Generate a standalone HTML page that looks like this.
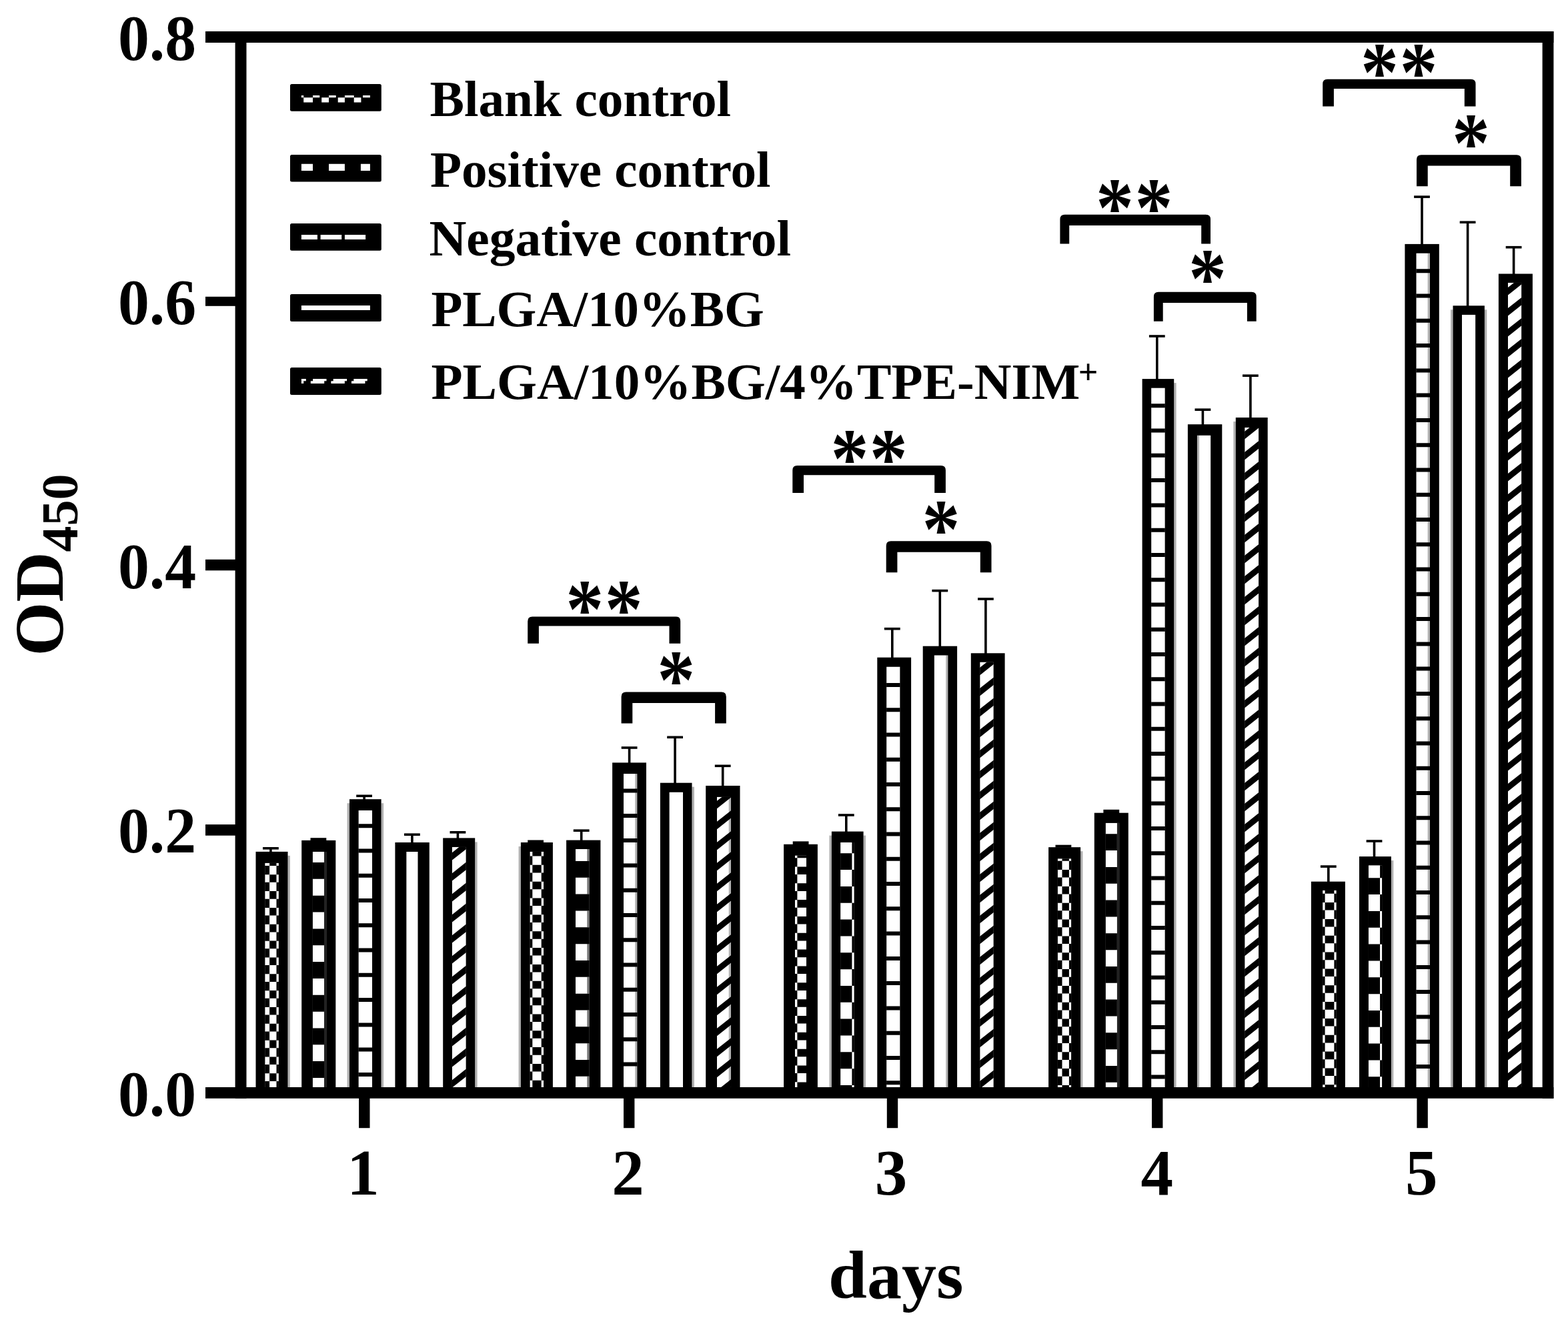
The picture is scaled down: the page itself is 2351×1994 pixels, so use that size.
<!DOCTYPE html>
<html lang="en">
<head>
<meta charset="utf-8">
<title>OD450 bar chart</title>
<style>
html,body{margin:0;padding:0;background:#fff;}
body{width:2351px;height:1994px;overflow:hidden;}
svg{display:block;}
text{font-family:'Liberation Serif', 'Times New Roman', Times, serif;font-weight:bold;fill:#000;}
</style>
</head>
<body>
<svg width="2351" height="1994" viewBox="0 0 2351 1994">
<rect x="0" y="0" width="2351" height="1994" fill="#fff"/>

<g id="bars">
<rect x="394.0" y="1270.0" width="23.8" height="3.6" fill="#000"/>
<rect x="404.1" y="1271.8" width="3.6" height="6.1" fill="#000"/>
<rect x="431.4" y="1282.9" width="3.5" height="347.1" fill="#b0b0b0"/>
<rect x="383.5" y="1276.9" width="48.0" height="355.1" fill="#000"/>
<svg x="397.2" y="1293.7" width="20.7" height="336.3" viewBox="397.2 1293.7 20.7 336.3" preserveAspectRatio="none" overflow="hidden"><rect x="397.2" y="1293.7" width="20.7" height="336.3" fill="#fff"/><path d="M404.1 1261.6H414.5v11.6H404.1zM396.2 1273.2H404.1v13.24H396.2zM414.5 1273.2H418.9v13.24H414.5zM404.1 1286.4H414.5v11.6H404.1zM396.2 1298.0H404.1v13.24H396.2zM414.5 1298.0H418.9v13.24H414.5zM404.1 1311.2H414.5v11.6H404.1zM396.2 1322.8H404.1v13.24H396.2zM414.5 1322.8H418.9v13.24H414.5zM404.1 1336.1H414.5v11.6H404.1zM396.2 1347.7H404.1v13.24H396.2zM414.5 1347.7H418.9v13.24H414.5zM404.1 1360.9H414.5v11.6H404.1zM396.2 1372.5H404.1v13.24H396.2zM414.5 1372.5H418.9v13.24H414.5zM404.1 1385.8H414.5v11.6H404.1zM396.2 1397.4H404.1v13.24H396.2zM414.5 1397.4H418.9v13.24H414.5zM404.1 1410.6H414.5v11.6H404.1zM396.2 1422.2H404.1v13.24H396.2zM414.5 1422.2H418.9v13.24H414.5zM404.1 1435.4H414.5v11.6H404.1zM396.2 1447.0H404.1v13.24H396.2zM414.5 1447.0H418.9v13.24H414.5zM404.1 1460.3H414.5v11.6H404.1zM396.2 1471.9H404.1v13.24H396.2zM414.5 1471.9H418.9v13.24H414.5zM404.1 1485.1H414.5v11.6H404.1zM396.2 1496.7H404.1v13.24H396.2zM414.5 1496.7H418.9v13.24H414.5zM404.1 1510.0H414.5v11.6H404.1zM396.2 1521.6H404.1v13.24H396.2zM414.5 1521.6H418.9v13.24H414.5zM404.1 1534.8H414.5v11.6H404.1zM396.2 1546.4H404.1v13.24H396.2zM414.5 1546.4H418.9v13.24H414.5zM404.1 1559.6H414.5v11.6H404.1zM396.2 1571.2H404.1v13.24H396.2zM414.5 1571.2H418.9v13.24H414.5zM404.1 1584.5H414.5v11.6H404.1zM396.2 1596.1H404.1v13.24H396.2zM414.5 1596.1H418.9v13.24H414.5zM404.1 1609.3H414.5v11.6H404.1zM396.2 1620.9H404.1v13.24H396.2zM414.5 1620.9H418.9v13.24H414.5zM404.1 1634.2H414.5v11.6H404.1zM396.2 1645.8H404.1v13.24H396.2zM414.5 1645.8H418.9v13.24H414.5zM404.1 1659.0H414.5v11.6H404.1zM396.2 1670.6H404.1v13.24H396.2zM414.5 1670.6H418.9v13.24H414.5z" fill="#000"/></svg>
<rect x="465.5" y="1256.2" width="23.8" height="4.2" fill="#000"/>
<rect x="452.2" y="1259.9" width="51.1" height="372.1" fill="#000"/>
<svg x="468.7" y="1276.9" width="20.7" height="353.1" viewBox="468.7 1276.9 20.7 353.1" preserveAspectRatio="none" overflow="hidden"><rect x="468.7" y="1276.9" width="20.7" height="353.1" fill="#fff"/><rect x="486.0" y="1276.9" width="4.4" height="353.1" fill="#222"/><path d="M467.7 1243.4H486.0v24.84H467.7zM467.7 1293.0H486.0v24.84H467.7zM467.7 1342.7H486.0v24.84H467.7zM467.7 1392.4H486.0v24.84H467.7zM467.7 1442.1H486.0v24.84H467.7zM467.7 1491.8H486.0v24.84H467.7zM467.7 1541.4H486.0v24.84H467.7zM467.7 1591.1H486.0v24.84H467.7zM467.7 1640.8H486.0v24.84H467.7zM467.7 1690.5H486.0v24.84H467.7zM467.7 1740.2H486.0v24.84H467.7z" fill="#000"/></svg>
<rect x="534.2" y="1191.5" width="23.8" height="3.6" fill="#000"/>
<rect x="544.3" y="1193.3" width="3.6" height="5.9" fill="#000"/>
<rect x="520.6" y="1204.2" width="3.4" height="425.8" fill="#b0b0b0"/>
<rect x="571.6" y="1204.2" width="3.5" height="425.8" fill="#b0b0b0"/>
<rect x="524.0" y="1198.2" width="47.6" height="433.8" fill="#000"/>
<svg x="537.4" y="1214.9" width="20.7" height="415.1" viewBox="537.4 1214.9 20.7 415.1" preserveAspectRatio="none" overflow="hidden"><rect x="537.4" y="1214.9" width="20.7" height="415.1" fill="#fff"/><path d="M536.4 1160.7H559.1v6H536.4zM536.4 1197.9H559.1v6H536.4zM536.4 1235.2H559.1v6H536.4zM536.4 1272.5H559.1v6H536.4zM536.4 1309.7H559.1v6H536.4zM536.4 1347.0H559.1v6H536.4zM536.4 1384.3H559.1v6H536.4zM536.4 1421.6H559.1v6H536.4zM536.4 1458.8H559.1v6H536.4zM536.4 1496.1H559.1v6H536.4zM536.4 1533.4H559.1v6H536.4zM536.4 1570.6H559.1v6H536.4zM536.4 1607.9H559.1v6H536.4zM536.4 1645.2H559.1v6H536.4zM536.4 1682.4H559.1v6H536.4z" fill="#000"/></svg>
<rect x="606.0" y="1249.4" width="23.8" height="3.6" fill="#000"/>
<rect x="616.1" y="1251.2" width="3.6" height="12.8" fill="#000"/>
<rect x="592.4" y="1263.0" width="51.4" height="369.0" fill="#000"/>
<svg x="609.2" y="1276.9" width="17.5" height="353.1" viewBox="609.2 1276.9 17.5 353.1" preserveAspectRatio="none" overflow="hidden"><rect x="609.2" y="1276.9" width="17.5" height="353.1" fill="#fff"/></svg>
<rect x="674.5" y="1246.0" width="23.8" height="3.6" fill="#000"/>
<rect x="684.6" y="1247.8" width="3.6" height="9.6" fill="#000"/>
<rect x="712.2" y="1262.4" width="3.4" height="367.6" fill="#b0b0b0"/>
<rect x="664.2" y="1256.4" width="48.0" height="375.6" fill="#000"/>
<svg x="677.7" y="1269.8" width="21.1" height="360.2" viewBox="677.7 1269.8 21.1 360.2" preserveAspectRatio="none" overflow="hidden"><rect x="677.7" y="1269.8" width="21.1" height="360.2" fill="#fff"/><path d="M674.7 1187.7L701.8 1166.3V1177.7L674.7 1199.1zM674.7 1218.7L701.8 1197.3V1208.7L674.7 1230.1zM674.7 1249.7L701.8 1228.3V1239.7L674.7 1261.1zM674.7 1280.7L701.8 1259.3V1270.7L674.7 1292.1zM674.7 1311.7L701.8 1290.3V1301.7L674.7 1323.1zM674.7 1342.7L701.8 1321.3V1332.7L674.7 1354.1zM674.7 1373.7L701.8 1352.3V1363.7L674.7 1385.1zM674.7 1404.7L701.8 1383.3V1394.7L674.7 1416.1zM674.7 1435.7L701.8 1414.3V1425.7L674.7 1447.1zM674.7 1466.7L701.8 1445.3V1456.7L674.7 1478.1zM674.7 1497.7L701.8 1476.3V1487.7L674.7 1509.1zM674.7 1528.7L701.8 1507.3V1518.7L674.7 1540.1zM674.7 1559.7L701.8 1538.3V1549.7L674.7 1571.1zM674.7 1590.7L701.8 1569.3V1580.7L674.7 1602.1zM674.7 1621.7L701.8 1600.3V1611.7L674.7 1633.1zM674.7 1652.7L701.8 1631.3V1642.7L674.7 1664.1zM674.7 1683.7L701.8 1662.3V1673.7L674.7 1695.1zM674.7 1714.7L701.8 1693.3V1704.7L674.7 1726.1zM674.7 1745.7L701.8 1724.3V1735.7L674.7 1757.1z" fill="#000"/></svg>
<rect x="791.2" y="1259.5" width="23.8" height="4.0" fill="#000"/>
<rect x="777.6" y="1269.0" width="3.3" height="361.0" fill="#b0b0b0"/>
<rect x="780.9" y="1263.0" width="48.0" height="369.0" fill="#000"/>
<svg x="794.4" y="1276.8" width="20.7" height="353.2" viewBox="794.4 1276.8 20.7 353.2" preserveAspectRatio="none" overflow="hidden"><rect x="794.4" y="1276.8" width="20.7" height="353.2" fill="#fff"/><path d="M798.3 1247.2H811.7v11.6H798.3zM793.4 1258.8H798.3v13.24H793.4zM811.7 1258.8H816.1v13.24H811.7zM798.3 1272.0H811.7v11.6H798.3zM793.4 1283.6H798.3v13.24H793.4zM811.7 1283.6H816.1v13.24H811.7zM798.3 1296.8H811.7v11.6H798.3zM793.4 1308.4H798.3v13.24H793.4zM811.7 1308.4H816.1v13.24H811.7zM798.3 1321.7H811.7v11.6H798.3zM793.4 1333.3H798.3v13.24H793.4zM811.7 1333.3H816.1v13.24H811.7zM798.3 1346.5H811.7v11.6H798.3zM793.4 1358.1H798.3v13.24H793.4zM811.7 1358.1H816.1v13.24H811.7zM798.3 1371.4H811.7v11.6H798.3zM793.4 1383.0H798.3v13.24H793.4zM811.7 1383.0H816.1v13.24H811.7zM798.3 1396.2H811.7v11.6H798.3zM793.4 1407.8H798.3v13.24H793.4zM811.7 1407.8H816.1v13.24H811.7zM798.3 1421.0H811.7v11.6H798.3zM793.4 1432.6H798.3v13.24H793.4zM811.7 1432.6H816.1v13.24H811.7zM798.3 1445.9H811.7v11.6H798.3zM793.4 1457.5H798.3v13.24H793.4zM811.7 1457.5H816.1v13.24H811.7zM798.3 1470.7H811.7v11.6H798.3zM793.4 1482.3H798.3v13.24H793.4zM811.7 1482.3H816.1v13.24H811.7zM798.3 1495.6H811.7v11.6H798.3zM793.4 1507.2H798.3v13.24H793.4zM811.7 1507.2H816.1v13.24H811.7zM798.3 1520.4H811.7v11.6H798.3zM793.4 1532.0H798.3v13.24H793.4zM811.7 1532.0H816.1v13.24H811.7zM798.3 1545.2H811.7v11.6H798.3zM793.4 1556.8H798.3v13.24H793.4zM811.7 1556.8H816.1v13.24H811.7zM798.3 1570.1H811.7v11.6H798.3zM793.4 1581.7H798.3v13.24H793.4zM811.7 1581.7H816.1v13.24H811.7zM798.3 1594.9H811.7v11.6H798.3zM793.4 1606.5H798.3v13.24H793.4zM811.7 1606.5H816.1v13.24H811.7zM798.3 1619.8H811.7v11.6H798.3zM793.4 1631.4H798.3v13.24H793.4zM811.7 1631.4H816.1v13.24H811.7zM798.3 1644.6H811.7v11.6H798.3zM793.4 1656.2H798.3v13.24H793.4zM811.7 1656.2H816.1v13.24H811.7zM798.3 1669.4H811.7v11.6H798.3zM793.4 1681.0H798.3v13.24H793.4zM811.7 1681.0H816.1v13.24H811.7z" fill="#000"/></svg>
<rect x="859.8" y="1243.4" width="23.8" height="3.6" fill="#000"/>
<rect x="869.9" y="1245.2" width="3.6" height="15.4" fill="#000"/>
<rect x="849.1" y="1259.6" width="51.3" height="372.4" fill="#000"/>
<svg x="863.0" y="1273.0" width="20.6" height="357.0" viewBox="863.0 1273.0 20.6 357.0" preserveAspectRatio="none" overflow="hidden"><rect x="863.0" y="1273.0" width="20.6" height="357.0" fill="#fff"/><path d="M880.3 1216.4H884.6v24.84H880.3zM880.3 1266.1H884.6v24.84H880.3zM880.3 1315.8H884.6v24.84H880.3zM880.3 1365.5H884.6v24.84H880.3zM880.3 1415.1H884.6v24.84H880.3zM880.3 1464.8H884.6v24.84H880.3zM880.3 1514.5H884.6v24.84H880.3zM880.3 1564.2H884.6v24.84H880.3zM880.3 1613.9H884.6v24.84H880.3zM880.3 1663.5H884.6v24.84H880.3zM880.3 1713.2H884.6v24.84H880.3z" fill="#777"/><path d="M862.0 1241.3H880.3v24.84H862.0zM880.3 1241.3H884.6v24.84H880.3zM862.0 1290.9H880.3v24.84H862.0zM880.3 1290.9H884.6v24.84H880.3zM862.0 1340.6H880.3v24.84H862.0zM880.3 1340.6H884.6v24.84H880.3zM862.0 1390.3H880.3v24.84H862.0zM880.3 1390.3H884.6v24.84H880.3zM862.0 1440.0H880.3v24.84H862.0zM880.3 1440.0H884.6v24.84H880.3zM862.0 1489.7H880.3v24.84H862.0zM880.3 1489.7H884.6v24.84H880.3zM862.0 1539.3H880.3v24.84H862.0zM880.3 1539.3H884.6v24.84H880.3zM862.0 1589.0H880.3v24.84H862.0zM880.3 1589.0H884.6v24.84H880.3zM862.0 1638.7H880.3v24.84H862.0zM880.3 1638.7H884.6v24.84H880.3zM862.0 1688.4H880.3v24.84H862.0zM880.3 1688.4H884.6v24.84H880.3zM862.0 1738.1H880.3v24.84H862.0zM880.3 1738.1H884.6v24.84H880.3z" fill="#000"/></svg>
<rect x="931.7" y="1119.2" width="23.8" height="3.6" fill="#000"/>
<rect x="941.8" y="1121.0" width="3.6" height="23.4" fill="#000"/>
<rect x="918.1" y="1143.4" width="50.9" height="488.6" fill="#000"/>
<svg x="934.9" y="1160.1" width="20.7" height="469.9" viewBox="934.9 1160.1 20.7 469.9" preserveAspectRatio="none" overflow="hidden"><rect x="934.9" y="1160.1" width="20.7" height="469.9" fill="#fff"/><path d="M933.9 1108.1H956.6v6H933.9zM933.9 1145.3H956.6v6H933.9zM933.9 1182.6H956.6v6H933.9zM933.9 1219.9H956.6v6H933.9zM933.9 1257.1H956.6v6H933.9zM933.9 1294.4H956.6v6H933.9zM933.9 1331.7H956.6v6H933.9zM933.9 1369.0H956.6v6H933.9zM933.9 1406.2H956.6v6H933.9zM933.9 1443.5H956.6v6H933.9zM933.9 1480.8H956.6v6H933.9zM933.9 1518.0H956.6v6H933.9zM933.9 1555.3H956.6v6H933.9zM933.9 1592.6H956.6v6H933.9zM933.9 1629.8H956.6v6H933.9zM933.9 1667.1H956.6v6H933.9z" fill="#000"/></svg>
<rect x="952.2" y="1160.1" width="3.4" height="469.9" fill="#000" fill-opacity="0.3"/>
<rect x="1000.2" y="1103.5" width="23.8" height="3.6" fill="#000"/>
<rect x="1010.3" y="1105.3" width="3.6" height="69.4" fill="#000"/>
<rect x="1037.5" y="1179.7" width="3.4" height="450.3" fill="#b0b0b0"/>
<rect x="989.9" y="1173.7" width="47.6" height="458.3" fill="#000"/>
<svg x="1003.4" y="1187.5" width="20.7" height="442.5" viewBox="1003.4 1187.5 20.7 442.5" preserveAspectRatio="none" overflow="hidden"><rect x="1003.4" y="1187.5" width="20.7" height="442.5" fill="#fff"/></svg>
<rect x="1071.8" y="1146.5" width="23.8" height="3.6" fill="#000"/>
<rect x="1081.9" y="1148.3" width="3.6" height="30.7" fill="#000"/>
<rect x="1058.2" y="1178.0" width="51.3" height="454.0" fill="#000"/>
<svg x="1075.0" y="1194.7" width="21.1" height="435.3" viewBox="1075.0 1194.7 21.1 435.3" preserveAspectRatio="none" overflow="hidden"><rect x="1075.0" y="1194.7" width="21.1" height="435.3" fill="#fff"/><path d="M1072.0 1110.2L1099.1 1088.8V1100.2L1072.0 1121.6zM1072.0 1141.2L1099.1 1119.8V1131.2L1072.0 1152.6zM1072.0 1172.2L1099.1 1150.8V1162.2L1072.0 1183.6zM1072.0 1203.2L1099.1 1181.8V1193.2L1072.0 1214.6zM1072.0 1234.2L1099.1 1212.8V1224.2L1072.0 1245.6zM1072.0 1265.2L1099.1 1243.8V1255.2L1072.0 1276.6zM1072.0 1296.2L1099.1 1274.8V1286.2L1072.0 1307.6zM1072.0 1327.2L1099.1 1305.8V1317.2L1072.0 1338.6zM1072.0 1358.2L1099.1 1336.8V1348.2L1072.0 1369.6zM1072.0 1389.2L1099.1 1367.8V1379.2L1072.0 1400.6zM1072.0 1420.2L1099.1 1398.8V1410.2L1072.0 1431.6zM1072.0 1451.2L1099.1 1429.8V1441.2L1072.0 1462.6zM1072.0 1482.2L1099.1 1460.8V1472.2L1072.0 1493.6zM1072.0 1513.2L1099.1 1491.8V1503.2L1072.0 1524.6zM1072.0 1544.2L1099.1 1522.8V1534.2L1072.0 1555.6zM1072.0 1575.2L1099.1 1553.8V1565.2L1072.0 1586.6zM1072.0 1606.2L1099.1 1584.8V1596.2L1072.0 1617.6zM1072.0 1637.2L1099.1 1615.8V1627.2L1072.0 1648.6zM1072.0 1668.2L1099.1 1646.8V1658.2L1072.0 1679.6zM1072.0 1699.2L1099.1 1677.8V1689.2L1072.0 1710.6zM1072.0 1730.2L1099.1 1708.8V1720.2L1072.0 1741.6z" fill="#000"/></svg>
<rect x="1092.7" y="1194.7" width="3.4" height="435.3" fill="#000" fill-opacity="0.3"/>
<rect x="1188.7" y="1261.4" width="23.8" height="4.9" fill="#000"/>
<rect x="1175.1" y="1265.8" width="50.8" height="366.2" fill="#000"/>
<svg x="1191.9" y="1282.4" width="17.2" height="347.6" viewBox="1191.9 1282.4 17.2 347.6" preserveAspectRatio="none" overflow="hidden"><rect x="1191.9" y="1282.4" width="17.2" height="347.6" fill="#fff"/><path d="M1195.4 1249.8H1209.2v11.6H1195.4zM1190.9 1261.4H1195.4v13.24H1190.9zM1209.2 1261.4H1210.1v13.24H1209.2zM1195.4 1274.6H1209.2v11.6H1195.4zM1190.9 1286.2H1195.4v13.24H1190.9zM1209.2 1286.2H1210.1v13.24H1209.2zM1195.4 1299.4H1209.2v11.6H1195.4zM1190.9 1311.0H1195.4v13.24H1190.9zM1209.2 1311.0H1210.1v13.24H1209.2zM1195.4 1324.3H1209.2v11.6H1195.4zM1190.9 1335.9H1195.4v13.24H1190.9zM1209.2 1335.9H1210.1v13.24H1209.2zM1195.4 1349.1H1209.2v11.6H1195.4zM1190.9 1360.7H1195.4v13.24H1190.9zM1209.2 1360.7H1210.1v13.24H1209.2zM1195.4 1374.0H1209.2v11.6H1195.4zM1190.9 1385.6H1195.4v13.24H1190.9zM1209.2 1385.6H1210.1v13.24H1209.2zM1195.4 1398.8H1209.2v11.6H1195.4zM1190.9 1410.4H1195.4v13.24H1190.9zM1209.2 1410.4H1210.1v13.24H1209.2zM1195.4 1423.6H1209.2v11.6H1195.4zM1190.9 1435.2H1195.4v13.24H1190.9zM1209.2 1435.2H1210.1v13.24H1209.2zM1195.4 1448.5H1209.2v11.6H1195.4zM1190.9 1460.1H1195.4v13.24H1190.9zM1209.2 1460.1H1210.1v13.24H1209.2zM1195.4 1473.3H1209.2v11.6H1195.4zM1190.9 1484.9H1195.4v13.24H1190.9zM1209.2 1484.9H1210.1v13.24H1209.2zM1195.4 1498.2H1209.2v11.6H1195.4zM1190.9 1509.8H1195.4v13.24H1190.9zM1209.2 1509.8H1210.1v13.24H1209.2zM1195.4 1523.0H1209.2v11.6H1195.4zM1190.9 1534.6H1195.4v13.24H1190.9zM1209.2 1534.6H1210.1v13.24H1209.2zM1195.4 1547.8H1209.2v11.6H1195.4zM1190.9 1559.4H1195.4v13.24H1190.9zM1209.2 1559.4H1210.1v13.24H1209.2zM1195.4 1572.7H1209.2v11.6H1195.4zM1190.9 1584.3H1195.4v13.24H1190.9zM1209.2 1584.3H1210.1v13.24H1209.2zM1195.4 1597.5H1209.2v11.6H1195.4zM1190.9 1609.1H1195.4v13.24H1190.9zM1209.2 1609.1H1210.1v13.24H1209.2zM1195.4 1622.4H1209.2v11.6H1195.4zM1190.9 1634.0H1195.4v13.24H1190.9zM1209.2 1634.0H1210.1v13.24H1209.2zM1195.4 1647.2H1209.2v11.6H1195.4zM1190.9 1658.8H1195.4v13.24H1190.9zM1209.2 1658.8H1210.1v13.24H1209.2zM1195.4 1672.0H1209.2v11.6H1195.4zM1190.9 1683.6H1195.4v13.24H1190.9zM1209.2 1683.6H1210.1v13.24H1209.2z" fill="#000"/></svg>
<rect x="1256.9" y="1220.2" width="23.8" height="3.6" fill="#000"/>
<rect x="1267.0" y="1222.0" width="3.6" height="25.6" fill="#000"/>
<rect x="1243.5" y="1252.6" width="3.4" height="377.4" fill="#b0b0b0"/>
<rect x="1294.6" y="1252.6" width="3.4" height="377.4" fill="#b0b0b0"/>
<rect x="1246.9" y="1246.6" width="47.7" height="385.4" fill="#000"/>
<svg x="1260.1" y="1263.0" width="20.7" height="367.0" viewBox="1260.1 1263.0 20.7 367.0" preserveAspectRatio="none" overflow="hidden"><rect x="1260.1" y="1263.0" width="20.7" height="367.0" fill="#fff"/><path d="M1259.1 1229.6H1277.4v24.84H1259.1zM1277.4 1204.7H1281.8v24.84H1277.4zM1259.1 1279.2H1277.4v24.84H1259.1zM1277.4 1254.4H1281.8v24.84H1277.4zM1259.1 1328.9H1277.4v24.84H1259.1zM1277.4 1304.1H1281.8v24.84H1277.4zM1259.1 1378.6H1277.4v24.84H1259.1zM1277.4 1353.8H1281.8v24.84H1277.4zM1259.1 1428.3H1277.4v24.84H1259.1zM1277.4 1403.4H1281.8v24.84H1277.4zM1259.1 1478.0H1277.4v24.84H1259.1zM1277.4 1453.1H1281.8v24.84H1277.4zM1259.1 1527.6H1277.4v24.84H1259.1zM1277.4 1502.8H1281.8v24.84H1277.4zM1259.1 1577.3H1277.4v24.84H1259.1zM1277.4 1552.5H1281.8v24.84H1277.4zM1259.1 1627.0H1277.4v24.84H1259.1zM1277.4 1602.2H1281.8v24.84H1277.4zM1259.1 1676.7H1277.4v24.84H1259.1zM1277.4 1651.8H1281.8v24.84H1277.4zM1259.1 1726.4H1277.4v24.84H1259.1zM1277.4 1701.5H1281.8v24.84H1277.4z" fill="#000"/></svg>
<rect x="1325.9" y="940.9" width="23.8" height="3.6" fill="#000"/>
<rect x="1336.0" y="942.7" width="3.6" height="44.0" fill="#000"/>
<rect x="1315.3" y="985.7" width="50.8" height="646.3" fill="#000"/>
<svg x="1329.1" y="999.5" width="20.5" height="630.5" viewBox="1329.1 999.5 20.5 630.5" preserveAspectRatio="none" overflow="hidden"><rect x="1329.1" y="999.5" width="20.5" height="630.5" fill="#fff"/><path d="M1328.1 949.4H1350.6v6H1328.1zM1328.1 986.6H1350.6v6H1328.1zM1328.1 1023.9H1350.6v6H1328.1zM1328.1 1061.2H1350.6v6H1328.1zM1328.1 1098.4H1350.6v6H1328.1zM1328.1 1135.7H1350.6v6H1328.1zM1328.1 1173.0H1350.6v6H1328.1zM1328.1 1210.2H1350.6v6H1328.1zM1328.1 1247.5H1350.6v6H1328.1zM1328.1 1284.8H1350.6v6H1328.1zM1328.1 1322.1H1350.6v6H1328.1zM1328.1 1359.3H1350.6v6H1328.1zM1328.1 1396.6H1350.6v6H1328.1zM1328.1 1433.9H1350.6v6H1328.1zM1328.1 1471.1H1350.6v6H1328.1zM1328.1 1508.4H1350.6v6H1328.1zM1328.1 1545.7H1350.6v6H1328.1zM1328.1 1583.0H1350.6v6H1328.1zM1328.1 1620.2H1350.6v6H1328.1zM1328.1 1657.5H1350.6v6H1328.1zM1328.1 1694.8H1350.6v6H1328.1z" fill="#000"/></svg>
<rect x="1397.4" y="883.8" width="23.8" height="3.6" fill="#000"/>
<rect x="1407.5" y="885.6" width="3.6" height="84.1" fill="#000"/>
<rect x="1383.7" y="968.7" width="51.4" height="663.3" fill="#000"/>
<svg x="1400.6" y="982.3" width="21.0" height="647.7" viewBox="1400.6 982.3 21.0 647.7" preserveAspectRatio="none" overflow="hidden"><rect x="1400.6" y="982.3" width="21.0" height="647.7" fill="#fff"/></svg>
<rect x="1418.2" y="982.3" width="3.4" height="647.7" fill="#000" fill-opacity="0.3"/>
<rect x="1466.0" y="896.2" width="23.8" height="3.6" fill="#000"/>
<rect x="1476.1" y="898.0" width="3.6" height="82.3" fill="#000"/>
<rect x="1455.8" y="979.3" width="50.8" height="652.7" fill="#000"/>
<svg x="1469.2" y="992.5" width="20.6" height="637.5" viewBox="1469.2 992.5 20.6 637.5" preserveAspectRatio="none" overflow="hidden"><rect x="1469.2" y="992.5" width="20.6" height="637.5" fill="#fff"/><path d="M1466.2 910.2L1492.8 889.2V900.6L1466.2 921.6zM1466.2 941.2L1492.8 920.2V931.6L1466.2 952.6zM1466.2 972.2L1492.8 951.2V962.6L1466.2 983.6zM1466.2 1003.2L1492.8 982.2V993.6L1466.2 1014.6zM1466.2 1034.2L1492.8 1013.2V1024.6L1466.2 1045.6zM1466.2 1065.2L1492.8 1044.2V1055.6L1466.2 1076.6zM1466.2 1096.2L1492.8 1075.2V1086.6L1466.2 1107.6zM1466.2 1127.2L1492.8 1106.2V1117.6L1466.2 1138.6zM1466.2 1158.2L1492.8 1137.2V1148.6L1466.2 1169.6zM1466.2 1189.2L1492.8 1168.2V1179.6L1466.2 1200.6zM1466.2 1220.2L1492.8 1199.2V1210.6L1466.2 1231.6zM1466.2 1251.2L1492.8 1230.2V1241.6L1466.2 1262.6zM1466.2 1282.2L1492.8 1261.2V1272.6L1466.2 1293.6zM1466.2 1313.2L1492.8 1292.2V1303.6L1466.2 1324.6zM1466.2 1344.2L1492.8 1323.2V1334.6L1466.2 1355.6zM1466.2 1375.2L1492.8 1354.2V1365.6L1466.2 1386.6zM1466.2 1406.2L1492.8 1385.2V1396.6L1466.2 1417.6zM1466.2 1437.2L1492.8 1416.2V1427.6L1466.2 1448.6zM1466.2 1468.2L1492.8 1447.2V1458.6L1466.2 1479.6zM1466.2 1499.2L1492.8 1478.2V1489.6L1466.2 1510.6zM1466.2 1530.2L1492.8 1509.2V1520.6L1466.2 1541.6zM1466.2 1561.2L1492.8 1540.2V1551.6L1466.2 1572.6zM1466.2 1592.2L1492.8 1571.2V1582.6L1466.2 1603.6zM1466.2 1623.2L1492.8 1602.2V1613.6L1466.2 1634.6zM1466.2 1654.2L1492.8 1633.2V1644.6L1466.2 1665.6zM1466.2 1685.2L1492.8 1664.2V1675.6L1466.2 1696.6zM1466.2 1716.2L1492.8 1695.2V1706.6L1466.2 1727.6zM1466.2 1747.2L1492.8 1726.2V1737.6L1466.2 1758.6z" fill="#000"/></svg>
<rect x="1582.5" y="1266.7" width="23.8" height="4.0" fill="#000"/>
<rect x="1620.1" y="1276.2" width="3.3" height="353.8" fill="#b0b0b0"/>
<rect x="1572.1" y="1270.2" width="48.0" height="361.8" fill="#000"/>
<svg x="1585.7" y="1287.2" width="20.6" height="342.8" viewBox="1585.7 1287.2 20.6 342.8" preserveAspectRatio="none" overflow="hidden"><rect x="1585.7" y="1287.2" width="20.6" height="342.8" fill="#fff"/><path d="M1592.5 1254.4H1602.9v11.6H1592.5zM1584.7 1266.0H1592.5v13.24H1584.7zM1602.9 1266.0H1607.3v13.24H1602.9zM1592.5 1279.2H1602.9v11.6H1592.5zM1584.7 1290.8H1592.5v13.24H1584.7zM1602.9 1290.8H1607.3v13.24H1602.9zM1592.5 1304.0H1602.9v11.6H1592.5zM1584.7 1315.6H1592.5v13.24H1584.7zM1602.9 1315.6H1607.3v13.24H1602.9zM1592.5 1328.9H1602.9v11.6H1592.5zM1584.7 1340.5H1592.5v13.24H1584.7zM1602.9 1340.5H1607.3v13.24H1602.9zM1592.5 1353.7H1602.9v11.6H1592.5zM1584.7 1365.3H1592.5v13.24H1584.7zM1602.9 1365.3H1607.3v13.24H1602.9zM1592.5 1378.6H1602.9v11.6H1592.5zM1584.7 1390.2H1592.5v13.24H1584.7zM1602.9 1390.2H1607.3v13.24H1602.9zM1592.5 1403.4H1602.9v11.6H1592.5zM1584.7 1415.0H1592.5v13.24H1584.7zM1602.9 1415.0H1607.3v13.24H1602.9zM1592.5 1428.2H1602.9v11.6H1592.5zM1584.7 1439.8H1592.5v13.24H1584.7zM1602.9 1439.8H1607.3v13.24H1602.9zM1592.5 1453.1H1602.9v11.6H1592.5zM1584.7 1464.7H1592.5v13.24H1584.7zM1602.9 1464.7H1607.3v13.24H1602.9zM1592.5 1477.9H1602.9v11.6H1592.5zM1584.7 1489.5H1592.5v13.24H1584.7zM1602.9 1489.5H1607.3v13.24H1602.9zM1592.5 1502.8H1602.9v11.6H1592.5zM1584.7 1514.4H1592.5v13.24H1584.7zM1602.9 1514.4H1607.3v13.24H1602.9zM1592.5 1527.6H1602.9v11.6H1592.5zM1584.7 1539.2H1592.5v13.24H1584.7zM1602.9 1539.2H1607.3v13.24H1602.9zM1592.5 1552.4H1602.9v11.6H1592.5zM1584.7 1564.0H1592.5v13.24H1584.7zM1602.9 1564.0H1607.3v13.24H1602.9zM1592.5 1577.3H1602.9v11.6H1592.5zM1584.7 1588.9H1592.5v13.24H1584.7zM1602.9 1588.9H1607.3v13.24H1602.9zM1592.5 1602.1H1602.9v11.6H1592.5zM1584.7 1613.7H1592.5v13.24H1584.7zM1602.9 1613.7H1607.3v13.24H1602.9zM1592.5 1627.0H1602.9v11.6H1592.5zM1584.7 1638.6H1592.5v13.24H1584.7zM1602.9 1638.6H1607.3v13.24H1602.9zM1592.5 1651.8H1602.9v11.6H1592.5zM1584.7 1663.4H1592.5v13.24H1584.7zM1602.9 1663.4H1607.3v13.24H1602.9zM1592.5 1676.6H1602.9v11.6H1592.5zM1584.7 1688.2H1592.5v13.24H1584.7zM1602.9 1688.2H1607.3v13.24H1602.9z" fill="#000"/></svg>
<rect x="1654.4" y="1213.8" width="23.8" height="5.4" fill="#000"/>
<rect x="1640.8" y="1218.7" width="51.0" height="413.3" fill="#000"/>
<svg x="1657.6" y="1233.7" width="20.7" height="396.3" viewBox="1657.6 1233.7 20.7 396.3" preserveAspectRatio="none" overflow="hidden"><rect x="1657.6" y="1233.7" width="20.7" height="396.3" fill="#fff"/><rect x="1674.9" y="1233.7" width="4.4" height="396.3" fill="#222"/><path d="M1656.6 1200.6H1674.9v24.84H1656.6zM1656.6 1250.2H1674.9v24.84H1656.6zM1656.6 1299.9H1674.9v24.84H1656.6zM1656.6 1349.6H1674.9v24.84H1656.6zM1656.6 1399.3H1674.9v24.84H1656.6zM1656.6 1449.0H1674.9v24.84H1656.6zM1656.6 1498.6H1674.9v24.84H1656.6zM1656.6 1548.3H1674.9v24.84H1656.6zM1656.6 1598.0H1674.9v24.84H1656.6zM1656.6 1647.7H1674.9v24.84H1656.6zM1656.6 1697.4H1674.9v24.84H1656.6zM1656.6 1747.0H1674.9v24.84H1656.6z" fill="#000"/></svg>
<rect x="1722.9" y="502.2" width="23.8" height="3.6" fill="#000"/>
<rect x="1733.0" y="504.0" width="3.6" height="65.1" fill="#000"/>
<rect x="1760.2" y="574.1" width="3.4" height="1055.9" fill="#b0b0b0"/>
<rect x="1712.6" y="568.1" width="47.6" height="1063.9" fill="#000"/>
<svg x="1726.1" y="581.4" width="20.7" height="1048.6" viewBox="1726.1 581.4 20.7 1048.6" preserveAspectRatio="none" overflow="hidden"><rect x="1726.1" y="581.4" width="20.7" height="1048.6" fill="#fff"/><path d="M1725.1 530.8H1747.8v6H1725.1zM1725.1 568.0H1747.8v6H1725.1zM1725.1 605.3H1747.8v6H1725.1zM1725.1 642.6H1747.8v6H1725.1zM1725.1 679.8H1747.8v6H1725.1zM1725.1 717.1H1747.8v6H1725.1zM1725.1 754.4H1747.8v6H1725.1zM1725.1 791.7H1747.8v6H1725.1zM1725.1 828.9H1747.8v6H1725.1zM1725.1 866.2H1747.8v6H1725.1zM1725.1 903.5H1747.8v6H1725.1zM1725.1 940.7H1747.8v6H1725.1zM1725.1 978.0H1747.8v6H1725.1zM1725.1 1015.3H1747.8v6H1725.1zM1725.1 1052.5H1747.8v6H1725.1zM1725.1 1089.8H1747.8v6H1725.1zM1725.1 1127.1H1747.8v6H1725.1zM1725.1 1164.4H1747.8v6H1725.1zM1725.1 1201.6H1747.8v6H1725.1zM1725.1 1238.9H1747.8v6H1725.1zM1725.1 1276.2H1747.8v6H1725.1zM1725.1 1313.4H1747.8v6H1725.1zM1725.1 1350.7H1747.8v6H1725.1zM1725.1 1388.0H1747.8v6H1725.1zM1725.1 1425.2H1747.8v6H1725.1zM1725.1 1462.5H1747.8v6H1725.1zM1725.1 1499.8H1747.8v6H1725.1zM1725.1 1537.1H1747.8v6H1725.1zM1725.1 1574.3H1747.8v6H1725.1zM1725.1 1611.6H1747.8v6H1725.1zM1725.1 1648.9H1747.8v6H1725.1zM1725.1 1686.1H1747.8v6H1725.1z" fill="#000"/></svg>
<rect x="1791.5" y="612.4" width="23.8" height="3.6" fill="#000"/>
<rect x="1801.6" y="614.2" width="3.6" height="23.0" fill="#000"/>
<rect x="1780.9" y="636.2" width="51.4" height="995.8" fill="#000"/>
<svg x="1794.7" y="652.6" width="20.7" height="977.4" viewBox="1794.7 652.6 20.7 977.4" preserveAspectRatio="none" overflow="hidden"><rect x="1794.7" y="652.6" width="20.7" height="977.4" fill="#fff"/></svg>
<rect x="1794.7" y="652.6" width="3.4" height="977.4" fill="#000" fill-opacity="0.3"/>
<rect x="1863.0" y="561.4" width="23.8" height="3.6" fill="#000"/>
<rect x="1873.1" y="563.2" width="3.6" height="63.8" fill="#000"/>
<rect x="1849.4" y="632.0" width="3.4" height="998.0" fill="#b0b0b0"/>
<rect x="1852.8" y="626.0" width="47.9" height="1006.0" fill="#000"/>
<svg x="1866.2" y="641.0" width="21.1" height="989.0" viewBox="1866.2 641.0 21.1 989.0" preserveAspectRatio="none" overflow="hidden"><rect x="1866.2" y="641.0" width="21.1" height="989.0" fill="#fff"/><path d="M1863.2 556.2L1890.3 534.8V546.2L1863.2 567.6zM1863.2 587.2L1890.3 565.8V577.2L1863.2 598.6zM1863.2 618.2L1890.3 596.8V608.2L1863.2 629.6zM1863.2 649.2L1890.3 627.8V639.2L1863.2 660.6zM1863.2 680.2L1890.3 658.8V670.2L1863.2 691.6zM1863.2 711.2L1890.3 689.8V701.2L1863.2 722.6zM1863.2 742.2L1890.3 720.8V732.2L1863.2 753.6zM1863.2 773.2L1890.3 751.8V763.2L1863.2 784.6zM1863.2 804.2L1890.3 782.8V794.2L1863.2 815.6zM1863.2 835.2L1890.3 813.8V825.2L1863.2 846.6zM1863.2 866.2L1890.3 844.8V856.2L1863.2 877.6zM1863.2 897.2L1890.3 875.8V887.2L1863.2 908.6zM1863.2 928.2L1890.3 906.8V918.2L1863.2 939.6zM1863.2 959.2L1890.3 937.8V949.2L1863.2 970.6zM1863.2 990.2L1890.3 968.8V980.2L1863.2 1001.6zM1863.2 1021.2L1890.3 999.8V1011.2L1863.2 1032.6zM1863.2 1052.2L1890.3 1030.8V1042.2L1863.2 1063.6zM1863.2 1083.2L1890.3 1061.8V1073.2L1863.2 1094.6zM1863.2 1114.2L1890.3 1092.8V1104.2L1863.2 1125.6zM1863.2 1145.2L1890.3 1123.8V1135.2L1863.2 1156.6zM1863.2 1176.2L1890.3 1154.8V1166.2L1863.2 1187.6zM1863.2 1207.2L1890.3 1185.8V1197.2L1863.2 1218.6zM1863.2 1238.2L1890.3 1216.8V1228.2L1863.2 1249.6zM1863.2 1269.2L1890.3 1247.8V1259.2L1863.2 1280.6zM1863.2 1300.2L1890.3 1278.8V1290.2L1863.2 1311.6zM1863.2 1331.2L1890.3 1309.8V1321.2L1863.2 1342.6zM1863.2 1362.2L1890.3 1340.8V1352.2L1863.2 1373.6zM1863.2 1393.2L1890.3 1371.8V1383.2L1863.2 1404.6zM1863.2 1424.2L1890.3 1402.8V1414.2L1863.2 1435.6zM1863.2 1455.2L1890.3 1433.8V1445.2L1863.2 1466.6zM1863.2 1486.2L1890.3 1464.8V1476.2L1863.2 1497.6zM1863.2 1517.2L1890.3 1495.8V1507.2L1863.2 1528.6zM1863.2 1548.2L1890.3 1526.8V1538.2L1863.2 1559.6zM1863.2 1579.2L1890.3 1557.8V1569.2L1863.2 1590.6zM1863.2 1610.2L1890.3 1588.8V1600.2L1863.2 1621.6zM1863.2 1641.2L1890.3 1619.8V1631.2L1863.2 1652.6zM1863.2 1672.2L1890.3 1650.8V1662.2L1863.2 1683.6zM1863.2 1703.2L1890.3 1681.8V1693.2L1863.2 1714.6zM1863.2 1734.2L1890.3 1712.8V1724.2L1863.2 1745.6z" fill="#000"/></svg>
<rect x="1979.9" y="1297.3" width="23.8" height="3.6" fill="#000"/>
<rect x="1990.0" y="1299.1" width="3.6" height="23.6" fill="#000"/>
<rect x="1965.9" y="1321.7" width="51.0" height="310.3" fill="#000"/>
<svg x="1983.1" y="1334.8" width="20.7" height="295.2" viewBox="1983.1 1334.8 20.7 295.2" preserveAspectRatio="none" overflow="hidden"><rect x="1983.1" y="1334.8" width="20.7" height="295.2" fill="#fff"/><path d="M1986.6 1303.4H2000.4v11.6H1986.6zM1982.1 1315.0H1986.6v13.24H1982.1zM2000.4 1315.0H2004.8v13.24H2000.4zM1986.6 1328.2H2000.4v11.6H1986.6zM1982.1 1339.8H1986.6v13.24H1982.1zM2000.4 1339.8H2004.8v13.24H2000.4zM1986.6 1353.0H2000.4v11.6H1986.6zM1982.1 1364.6H1986.6v13.24H1982.1zM2000.4 1364.6H2004.8v13.24H2000.4zM1986.6 1377.9H2000.4v11.6H1986.6zM1982.1 1389.5H1986.6v13.24H1982.1zM2000.4 1389.5H2004.8v13.24H2000.4zM1986.6 1402.7H2000.4v11.6H1986.6zM1982.1 1414.3H1986.6v13.24H1982.1zM2000.4 1414.3H2004.8v13.24H2000.4zM1986.6 1427.6H2000.4v11.6H1986.6zM1982.1 1439.2H1986.6v13.24H1982.1zM2000.4 1439.2H2004.8v13.24H2000.4zM1986.6 1452.4H2000.4v11.6H1986.6zM1982.1 1464.0H1986.6v13.24H1982.1zM2000.4 1464.0H2004.8v13.24H2000.4zM1986.6 1477.2H2000.4v11.6H1986.6zM1982.1 1488.8H1986.6v13.24H1982.1zM2000.4 1488.8H2004.8v13.24H2000.4zM1986.6 1502.1H2000.4v11.6H1986.6zM1982.1 1513.7H1986.6v13.24H1982.1zM2000.4 1513.7H2004.8v13.24H2000.4zM1986.6 1526.9H2000.4v11.6H1986.6zM1982.1 1538.5H1986.6v13.24H1982.1zM2000.4 1538.5H2004.8v13.24H2000.4zM1986.6 1551.8H2000.4v11.6H1986.6zM1982.1 1563.4H1986.6v13.24H1982.1zM2000.4 1563.4H2004.8v13.24H2000.4zM1986.6 1576.6H2000.4v11.6H1986.6zM1982.1 1588.2H1986.6v13.24H1982.1zM2000.4 1588.2H2004.8v13.24H2000.4zM1986.6 1601.4H2000.4v11.6H1986.6zM1982.1 1613.0H1986.6v13.24H1982.1zM2000.4 1613.0H2004.8v13.24H2000.4zM1986.6 1626.3H2000.4v11.6H1986.6zM1982.1 1637.9H1986.6v13.24H1982.1zM2000.4 1637.9H2004.8v13.24H2000.4zM1986.6 1651.1H2000.4v11.6H1986.6zM1982.1 1662.7H1986.6v13.24H1982.1zM2000.4 1662.7H2004.8v13.24H2000.4zM1986.6 1676.0H2000.4v11.6H1986.6zM1982.1 1687.6H1986.6v13.24H1982.1zM2000.4 1687.6H2004.8v13.24H2000.4z" fill="#000"/></svg>
<rect x="2048.6" y="1259.2" width="23.8" height="3.6" fill="#000"/>
<rect x="2058.7" y="1261.0" width="3.6" height="24.1" fill="#000"/>
<rect x="2085.9" y="1290.1" width="3.4" height="339.9" fill="#b0b0b0"/>
<rect x="2038.0" y="1284.1" width="47.9" height="347.9" fill="#000"/>
<svg x="2051.8" y="1297.2" width="20.5" height="332.8" viewBox="2051.8 1297.2 20.5 332.8" preserveAspectRatio="none" overflow="hidden"><rect x="2051.8" y="1297.2" width="20.5" height="332.8" fill="#fff"/><path d="M2050.8 1266.6H2069.1v24.84H2050.8zM2069.1 1241.7H2073.3v24.84H2069.1zM2050.8 1316.2H2069.1v24.84H2050.8zM2069.1 1291.4H2073.3v24.84H2069.1zM2050.8 1365.9H2069.1v24.84H2050.8zM2069.1 1341.1H2073.3v24.84H2069.1zM2050.8 1415.6H2069.1v24.84H2050.8zM2069.1 1390.8H2073.3v24.84H2069.1zM2050.8 1465.3H2069.1v24.84H2050.8zM2069.1 1440.4H2073.3v24.84H2069.1zM2050.8 1515.0H2069.1v24.84H2050.8zM2069.1 1490.1H2073.3v24.84H2069.1zM2050.8 1564.6H2069.1v24.84H2050.8zM2069.1 1539.8H2073.3v24.84H2069.1zM2050.8 1614.3H2069.1v24.84H2050.8zM2069.1 1589.5H2073.3v24.84H2069.1zM2050.8 1664.0H2069.1v24.84H2050.8zM2069.1 1639.2H2073.3v24.84H2069.1zM2050.8 1713.7H2069.1v24.84H2050.8zM2069.1 1688.8H2073.3v24.84H2069.1z" fill="#000"/></svg>
<rect x="2120.1" y="293.3" width="23.8" height="3.6" fill="#000"/>
<rect x="2130.2" y="295.1" width="3.6" height="71.8" fill="#000"/>
<rect x="2106.4" y="365.9" width="51.4" height="1266.1" fill="#000"/>
<svg x="2123.3" y="379.4" width="20.7" height="1250.6" viewBox="2123.3 379.4 20.7 1250.6" preserveAspectRatio="none" overflow="hidden"><rect x="2123.3" y="379.4" width="20.7" height="1250.6" fill="#fff"/><path d="M2122.3 328.8H2145.0v6H2122.3zM2122.3 366.0H2145.0v6H2122.3zM2122.3 403.3H2145.0v6H2122.3zM2122.3 440.6H2145.0v6H2122.3zM2122.3 477.8H2145.0v6H2122.3zM2122.3 515.1H2145.0v6H2122.3zM2122.3 552.4H2145.0v6H2122.3zM2122.3 589.6H2145.0v6H2122.3zM2122.3 626.9H2145.0v6H2122.3zM2122.3 664.2H2145.0v6H2122.3zM2122.3 701.5H2145.0v6H2122.3zM2122.3 738.7H2145.0v6H2122.3zM2122.3 776.0H2145.0v6H2122.3zM2122.3 813.3H2145.0v6H2122.3zM2122.3 850.5H2145.0v6H2122.3zM2122.3 887.8H2145.0v6H2122.3zM2122.3 925.1H2145.0v6H2122.3zM2122.3 962.4H2145.0v6H2122.3zM2122.3 999.6H2145.0v6H2122.3zM2122.3 1036.9H2145.0v6H2122.3zM2122.3 1074.2H2145.0v6H2122.3zM2122.3 1111.4H2145.0v6H2122.3zM2122.3 1148.7H2145.0v6H2122.3zM2122.3 1186.0H2145.0v6H2122.3zM2122.3 1223.2H2145.0v6H2122.3zM2122.3 1260.5H2145.0v6H2122.3zM2122.3 1297.8H2145.0v6H2122.3zM2122.3 1335.1H2145.0v6H2122.3zM2122.3 1372.3H2145.0v6H2122.3zM2122.3 1409.6H2145.0v6H2122.3zM2122.3 1446.9H2145.0v6H2122.3zM2122.3 1484.1H2145.0v6H2122.3zM2122.3 1521.4H2145.0v6H2122.3zM2122.3 1558.7H2145.0v6H2122.3zM2122.3 1595.9H2145.0v6H2122.3zM2122.3 1633.2H2145.0v6H2122.3zM2122.3 1670.5H2145.0v6H2122.3z" fill="#000"/></svg>
<rect x="2140.6" y="379.4" width="3.4" height="1250.6" fill="#000" fill-opacity="0.3"/>
<rect x="2188.7" y="331.4" width="23.8" height="3.6" fill="#000"/>
<rect x="2198.8" y="333.2" width="3.6" height="126.1" fill="#000"/>
<rect x="2175.1" y="464.3" width="3.4" height="1165.7" fill="#b0b0b0"/>
<rect x="2225.9" y="464.3" width="3.4" height="1165.7" fill="#b0b0b0"/>
<rect x="2178.5" y="458.3" width="47.4" height="1173.7" fill="#000"/>
<svg x="2191.9" y="471.8" width="20.5" height="1158.2" viewBox="2191.9 471.8 20.5 1158.2" preserveAspectRatio="none" overflow="hidden"><rect x="2191.9" y="471.8" width="20.5" height="1158.2" fill="#fff"/></svg>
<rect x="2257.7" y="368.9" width="23.8" height="3.6" fill="#000"/>
<rect x="2267.8" y="370.7" width="3.6" height="40.8" fill="#000"/>
<rect x="2246.9" y="410.5" width="51.0" height="1221.5" fill="#000"/>
<svg x="2260.9" y="423.8" width="20.5" height="1206.2" viewBox="2260.9 423.8 20.5 1206.2" preserveAspectRatio="none" overflow="hidden"><rect x="2260.9" y="423.8" width="20.5" height="1206.2" fill="#fff"/><path d="M2257.9 340.5L2284.4 319.5V330.9L2257.9 351.9zM2257.9 371.5L2284.4 350.5V361.9L2257.9 382.9zM2257.9 402.5L2284.4 381.5V392.9L2257.9 413.9zM2257.9 433.5L2284.4 412.5V423.9L2257.9 444.9zM2257.9 464.5L2284.4 443.5V454.9L2257.9 475.9zM2257.9 495.5L2284.4 474.5V485.9L2257.9 506.9zM2257.9 526.5L2284.4 505.5V516.9L2257.9 537.9zM2257.9 557.5L2284.4 536.5V547.9L2257.9 568.9zM2257.9 588.5L2284.4 567.5V578.9L2257.9 599.9zM2257.9 619.5L2284.4 598.5V609.9L2257.9 630.9zM2257.9 650.5L2284.4 629.5V640.9L2257.9 661.9zM2257.9 681.5L2284.4 660.5V671.9L2257.9 692.9zM2257.9 712.5L2284.4 691.5V702.9L2257.9 723.9zM2257.9 743.5L2284.4 722.5V733.9L2257.9 754.9zM2257.9 774.5L2284.4 753.5V764.9L2257.9 785.9zM2257.9 805.5L2284.4 784.5V795.9L2257.9 816.9zM2257.9 836.5L2284.4 815.5V826.9L2257.9 847.9zM2257.9 867.5L2284.4 846.5V857.9L2257.9 878.9zM2257.9 898.5L2284.4 877.5V888.9L2257.9 909.9zM2257.9 929.5L2284.4 908.5V919.9L2257.9 940.9zM2257.9 960.5L2284.4 939.5V950.9L2257.9 971.9zM2257.9 991.5L2284.4 970.5V981.9L2257.9 1002.9zM2257.9 1022.5L2284.4 1001.5V1012.9L2257.9 1033.9zM2257.9 1053.5L2284.4 1032.5V1043.9L2257.9 1064.9zM2257.9 1084.5L2284.4 1063.5V1074.9L2257.9 1095.9zM2257.9 1115.5L2284.4 1094.5V1105.9L2257.9 1126.9zM2257.9 1146.5L2284.4 1125.5V1136.9L2257.9 1157.9zM2257.9 1177.5L2284.4 1156.5V1167.9L2257.9 1188.9zM2257.9 1208.5L2284.4 1187.5V1198.9L2257.9 1219.9zM2257.9 1239.5L2284.4 1218.5V1229.9L2257.9 1250.9zM2257.9 1270.5L2284.4 1249.5V1260.9L2257.9 1281.9zM2257.9 1301.5L2284.4 1280.5V1291.9L2257.9 1312.9zM2257.9 1332.5L2284.4 1311.5V1322.9L2257.9 1343.9zM2257.9 1363.5L2284.4 1342.5V1353.9L2257.9 1374.9zM2257.9 1394.5L2284.4 1373.5V1384.9L2257.9 1405.9zM2257.9 1425.5L2284.4 1404.5V1415.9L2257.9 1436.9zM2257.9 1456.5L2284.4 1435.5V1446.9L2257.9 1467.9zM2257.9 1487.5L2284.4 1466.5V1477.9L2257.9 1498.9zM2257.9 1518.5L2284.4 1497.5V1508.9L2257.9 1529.9zM2257.9 1549.5L2284.4 1528.5V1539.9L2257.9 1560.9zM2257.9 1580.5L2284.4 1559.5V1570.9L2257.9 1591.9zM2257.9 1611.5L2284.4 1590.5V1601.9L2257.9 1622.9zM2257.9 1642.5L2284.4 1621.5V1632.9L2257.9 1653.9zM2257.9 1673.5L2284.4 1652.5V1663.9L2257.9 1684.9zM2257.9 1704.5L2284.4 1683.5V1694.9L2257.9 1715.9zM2257.9 1735.5L2284.4 1714.5V1725.9L2257.9 1746.9z" fill="#000"/></svg>
</g>
<g id="axes" fill="#000">
<rect x="308" y="47" width="2021.4" height="17"/>
<rect x="308" y="1630" width="2021.4" height="16.8"/>
<rect x="352.6" y="47" width="16.9" height="1599.8"/>
<rect x="2312.6" y="47" width="16.8" height="1599.8"/>
<rect x="308" y="444.8" width="50" height="14.0"/>
<rect x="308" y="838.8" width="50" height="16.5"/>
<rect x="308" y="1236.1" width="50" height="16.6"/>
<rect x="538.1" y="1640" width="16.4" height="51.2"/>
<rect x="935.0" y="1640" width="16.4" height="51.2"/>
<rect x="1329.8" y="1640" width="16.4" height="51.2"/>
<rect x="1727.0" y="1640" width="16.4" height="51.2"/>
<rect x="2124.4" y="1640" width="16.4" height="51.2"/>
</g>
<g id="brackets" fill="#000">
<path d="M791.2 964.8V931.4Q791.2 924.4 798.2 924.4H1013.2Q1020.2 924.4 1020.2 931.4V964.8H1003.5V938.6H807.9V964.8z"/>
<path d="M1188.3 739.0V705.1Q1188.3 698.1 1195.3 698.1H1410.9Q1417.9 698.1 1417.9 705.1V739.0H1401.2V712.3H1205.0V739.0z"/>
<path d="M1589.4 365.6V328.7Q1589.4 321.7 1596.4 321.7H1808.0Q1815.0 321.7 1815.0 328.7V365.6H1801.2V338.1H1603.2V365.6z"/>
<path d="M1983.2 159.5V125.8Q1983.2 118.8 1990.2 118.8H2205.5Q2212.5 118.8 2212.5 125.8V159.5H2195.8V133.0H1999.9V159.5z"/>
<path d="M931.6 1084.5V1044.5Q931.6 1037.5 938.6 1037.5H1081.8Q1088.8 1037.5 1088.8 1044.5V1084.5H1072.1V1053.9H948.3V1084.5z"/>
<path d="M1328.7 858.2V818.2Q1328.7 811.2 1335.7 811.2H1479.5Q1486.5 811.2 1486.5 818.2V858.2H1469.8V827.8H1345.4V858.2z"/>
<path d="M1729.9 481.8V444.7Q1729.9 437.7 1736.9 437.7H1876.7Q1883.7 437.7 1883.7 444.7V481.8H1869.9V454.1H1743.7V481.8z"/>
<path d="M2124.0 279.2V239.2Q2124.0 232.2 2131.0 232.2H2273.9Q2280.9 232.2 2280.9 239.2V279.2H2264.2V248.6H2140.7V279.2z"/>
</g>
<g id="labels">
<text transform="translate(176.9 90.0) scale(0.9670 1)" font-size="97" text-anchor="start">0.8</text>
<text transform="translate(176.9 485.6) scale(0.9670 1)" font-size="97" text-anchor="start">0.6</text>
<text transform="translate(176.9 882.2) scale(0.9670 1)" font-size="97" text-anchor="start">0.4</text>
<text transform="translate(176.9 1278.4) scale(0.9670 1)" font-size="97" text-anchor="start">0.2</text>
<text transform="translate(176.9 1673.0) scale(0.9670 1)" font-size="97" text-anchor="start">0.0</text>
<text x="544.6" y="1790.5" font-size="97" text-anchor="middle">1</text>
<text x="941.5" y="1790.5" font-size="97" text-anchor="middle">2</text>
<text x="1336.0" y="1790.5" font-size="97" text-anchor="middle">3</text>
<text x="1734.8" y="1790.5" font-size="97" text-anchor="middle">4</text>
<text x="2131.2" y="1790.5" font-size="97" text-anchor="middle">5</text>
<text transform="translate(1242.1 1946.0) scale(1.0200 1)" font-size="102" text-anchor="start">days</text>
<text transform="translate(93.5 983.5) rotate(-90)" font-size="104">OD<tspan font-size="78" dy="22.5">450</tspan></text>
<text transform="translate(644.4 174.0) scale(1.0040 1)" font-size="77" text-anchor="start">Blank control</text>
<text transform="translate(644.9 279.6) scale(1.0020 1)" font-size="77" text-anchor="start">Positive control</text>
<text transform="translate(643.4 383.1) scale(1.0060 1)" font-size="77" text-anchor="start">Negative control</text>
<text transform="translate(646.4 488.5) scale(0.9980 1)" font-size="77" text-anchor="start">PLGA/10%BG</text>
<text transform="translate(646.4 598.4) scale(1.002 1)" font-size="77">PLGA/10%BG/4%TPE-NIM<tspan font-size="52" dx="-2.4" dy="-23.5">+</tspan></text>
<text transform="translate(848.3 956.2) scale(0.8900 1)" font-size="128" text-anchor="start" letter-spacing="1.7">**</text>
<text transform="translate(1245.4 729.8) scale(0.8900 1)" font-size="128" text-anchor="start" letter-spacing="1.7">**</text>
<text transform="translate(1643.1 353.5) scale(0.8900 1)" font-size="128" text-anchor="start" letter-spacing="1.7">**</text>
<text transform="translate(2040.1 150.9) scale(0.8900 1)" font-size="128" text-anchor="start" letter-spacing="1.7">**</text>
<text transform="translate(985.3 1062.0) scale(0.8900 1)" font-size="128" text-anchor="start">*</text>
<text transform="translate(1382.4 836.0) scale(0.8900 1)" font-size="128" text-anchor="start">*</text>
<text transform="translate(1782.0 460.2) scale(0.8900 1)" font-size="128" text-anchor="start">*</text>
<text transform="translate(2177.1 257.0) scale(0.8900 1)" font-size="128" text-anchor="start">*</text>
</g>
<g id="legend">
<rect x="435" y="126.1" width="136.8" height="40.7" rx="2.5" fill="#000"/>
<path d="M451.9 143.0H455.2V146.3H451.9zM469.0 143.0H479.2V146.3H469.0zM493.0 143.0H503.7V146.3H493.0zM516.9 143.0H530.7V146.3H516.9zM544.0 143.0H554.9V146.3H544.0zM455.2 146.3H469.0V153.4H455.2zM482.2 146.3H493.0V153.4H482.2zM506.7 146.3H516.9V153.4H506.7zM530.7 146.3H541.4V153.4H530.7z" fill="#fff"/>
<rect x="435" y="231.9" width="136.8" height="40.7" rx="2.5" fill="#000"/>
<path d="M451.9 245.7H469.0V256.1H451.9zM493.0 245.7H516.9V256.1H493.0zM540.9 245.7H554.9V256.1H540.9z" fill="#fff"/>
<rect x="435" y="335.0" width="136.8" height="40.8" rx="2.5" fill="#000"/>
<path d="M451.9 351.9H475.9V359.1H451.9zM480.6 351.9H512.2V359.1H480.6zM516.9 351.9H548.1V359.1H516.9z" fill="#fff"/>
<rect x="435" y="441.1" width="136.8" height="40.8" rx="2.5" fill="#000"/>
<path d="M451.9 458.0H554.9V464.9H451.9z" fill="#fff"/>
<rect x="435" y="550.9" width="136.8" height="41.0" rx="2.5" fill="#000"/>
<path d="M451.9 568.1H458.8V571.2H455.2V574.9H451.9zM469.1 568.1H489.5V571.2H486.2V574.9H465.8V571.2H469.1zM499.7 568.1H520.1V571.2H516.8V574.9H496.4V571.2H499.7zM530.3 568.1H550.7V571.2H547.4V574.9H527.0V571.2H530.3z" fill="#fff"/>
</g>
</svg>
</body>
</html>
